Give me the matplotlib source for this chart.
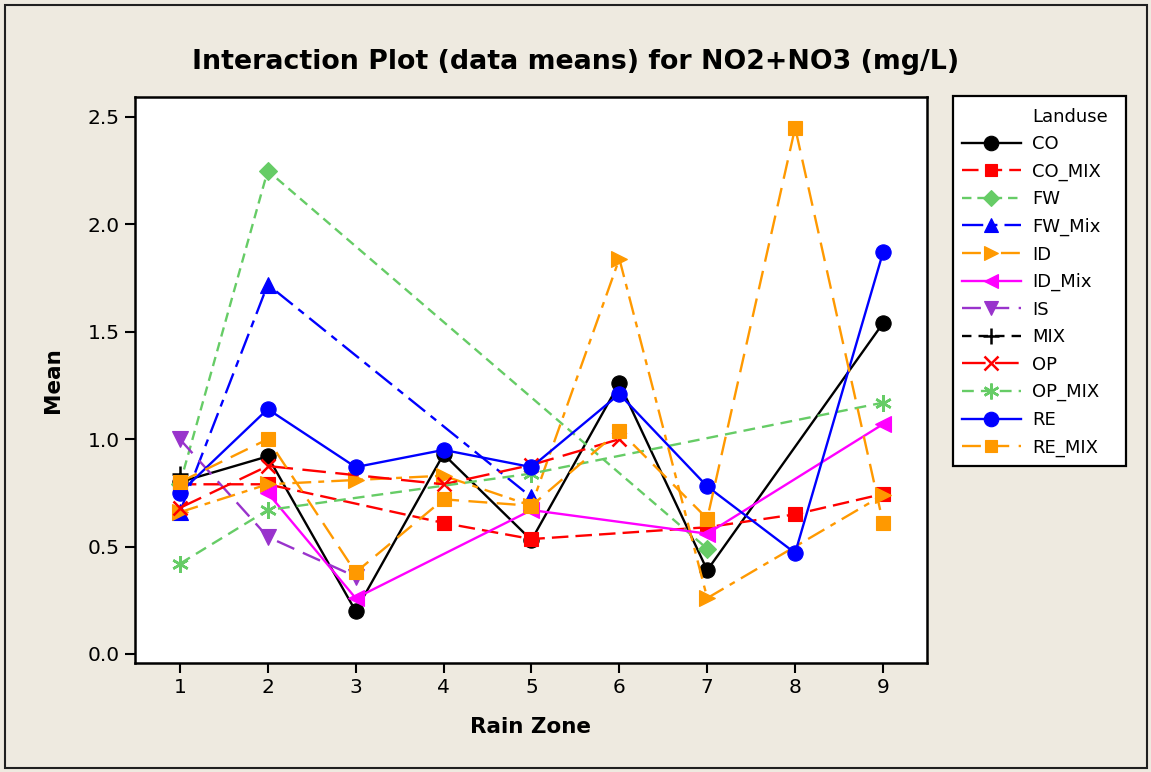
import numpy as np
import matplotlib
matplotlib.use("Agg")
import matplotlib.pyplot as plt
from matplotlib.lines import Line2D
from matplotlib.patches import Rectangle

nan = np.nan

# Rain zones on the x axis
zones = [1, 2, 3, 4, 5, 6, 7, 8, 9]

# Mean NO2+NO3 (mg/L) per land use and rain zone (nan = no data)
co      = [0.80, 0.92, 0.20, 0.93, 0.53, 1.26, 0.39, nan, 1.54]
co_mix  = [0.79, 0.79, nan, 0.61, 0.535, nan, 0.59, 0.65, 0.745]
fw      = [0.79, 2.25, nan, nan, nan, nan, 0.49, nan, nan]
fw_mix  = [0.66, 1.72, nan, nan, 0.73, nan, nan, nan, nan]
id_     = [0.66, 0.79, 0.81, 0.83, 0.69, 1.84, 0.26, nan, 0.74]
id_mix  = [nan, 0.75, 0.26, nan, 0.67, nan, 0.56, nan, 1.07]
is_     = [1.00, 0.545, 0.36, nan, nan, nan, nan, nan, nan]
mix     = [0.84, nan, nan, nan, nan, nan, nan, nan, nan]
op      = [0.68, 0.875, nan, 0.79, 0.88, 1.00, nan, nan, nan]
op_mix  = [0.42, 0.67, nan, nan, 0.84, nan, nan, nan, 1.17]
re      = [0.75, 1.14, 0.87, 0.95, 0.87, 1.21, 0.78, 0.47, 1.87]
re_mix  = [0.80, 1.00, 0.38, 0.72, 0.69, 1.04, 0.63, 2.45, 0.61]

landuse = ["CO", "CO_MIX", "FW", "FW_Mix", "ID", "ID_Mix", "IS",
           "MIX", "OP", "OP_MIX", "RE", "RE_MIX"]
series = [co, co_mix, fw, fw_mix, id_, id_mix, is_, mix, op, op_mix, re, re_mix]

GREEN = "#66CC66"
ORANGE = "#FF9900"
PURPLE = "#9933CC"
styles = {
    "CO":     dict(color="black",  marker="o", ms=11,  ls="-"),
    "CO_MIX": dict(color="red",    marker="s", ms=9.5, ls=(0, (7, 3))),
    "FW":     dict(color=GREEN,    marker="D", ms=9,   ls=(0, (4, 2.5))),
    "FW_Mix": dict(color="blue",   marker="^", ms=11,  ls=(0, (9, 3, 3, 3))),
    "ID":     dict(color=ORANGE,   marker=">", ms=11,  ls=(0, (8, 3, 2.5, 3))),
    "ID_Mix": dict(color="magenta", marker="<", ms=11, ls="-"),
    "IS":     dict(color=PURPLE,   marker="v", ms=11,  ls=(0, (8, 4))),
    "MIX":    dict(color="black",  marker="+", ms=12,  ls=(0, (4, 3))),
    "OP":     dict(color="red",    marker="x", ms=10,  ls=(0, (10, 4))),
    "OP_MIX": dict(color=GREEN,    marker=(6, 2, 0), ms=12, ls=(0, (5, 3))),
    "RE":     dict(color="blue",   marker="o", ms=11,  ls="-"),
    "RE_MIX": dict(color=ORANGE,   marker="s", ms=9.5, ls=(0, (8, 4))),
}

BG = "#EEEAE0"
W, H = 1151, 772
fig = plt.figure(figsize=(W / 100, H / 100), dpi=100, facecolor=BG)

# outer frame of the graph window
fig.patches.append(Rectangle((5 / W, 4 / H), 1142 / W, 763 / H, transform=fig.transFigure,
                             fill=False, edgecolor="#202020", linewidth=1.5))

ax = fig.add_axes([135 / W, 1 - 663 / H, 792 / W, 566 / H])
ax.set_facecolor("white")

x = np.array(zones, dtype=float)
handles = []
for name, vals in zip(landuse, series):
    v = np.array(vals, dtype=float)
    m = ~np.isnan(v)
    st = styles[name]
    thin = st["marker"] in ("+", "x", (6, 2, 0))
    ln, = ax.plot(x[m], v[m], color=st["color"], linestyle=st["ls"], linewidth=1.7,
                  marker=st["marker"], markersize=st["ms"], markeredgewidth=1.8 if thin else 0.8,
                  markerfacecolor=st["color"], markeredgecolor=st["color"], label=name)
    handles.append(ln)

ax.set_xlim(0.49, 9.50)
ax.set_ylim(-0.042, 2.593)
ax.set_xticks(zones)
ax.set_yticks([0.0, 0.5, 1.0, 1.5, 2.0, 2.5])
ax.set_yticklabels(["0.0", "0.5", "1.0", "1.5", "2.0", "2.5"])
ax.tick_params(direction="out", length=7, width=1.5, labelsize=14.5, pad=4, colors="black")
for sp in ax.spines.values():
    sp.set_linewidth(1.8)

ax.set_xlabel("Rain Zone", fontsize=15.5, fontweight="bold", labelpad=14)
ax.set_ylabel("Mean", fontsize=15.5, fontweight="bold", labelpad=18)

fig.text(0.5, 1 - 62 / H, "Interaction Plot (data means) for NO2+NO3 (mg/L)",
         ha="center", va="center", fontsize=19.3, fontweight="bold")

# legend box
fig.patches.append(Rectangle((953 / W, 1 - 466 / H), 173 / W, 370 / H, transform=fig.transFigure,
                             facecolor="white", edgecolor="black", linewidth=1.6, zorder=0))
title_handle = Line2D([], [], linestyle="none", marker=None)
leg = fig.legend([title_handle] + handles, ["Landuse"] + landuse,
                 loc="upper left", bbox_to_anchor=(958 / W, 1 - 104 / H),
                 frameon=False, fontsize=13, handlelength=3.3, handletextpad=0.6,
                 labelspacing=0.525, borderpad=0.2, borderaxespad=0)
for lh in leg.legend_handles[1:]:
    lh.set_markersize(lh.get_markersize() * 0.95)

fig.savefig("out.png", dpi=100, facecolor=BG)
